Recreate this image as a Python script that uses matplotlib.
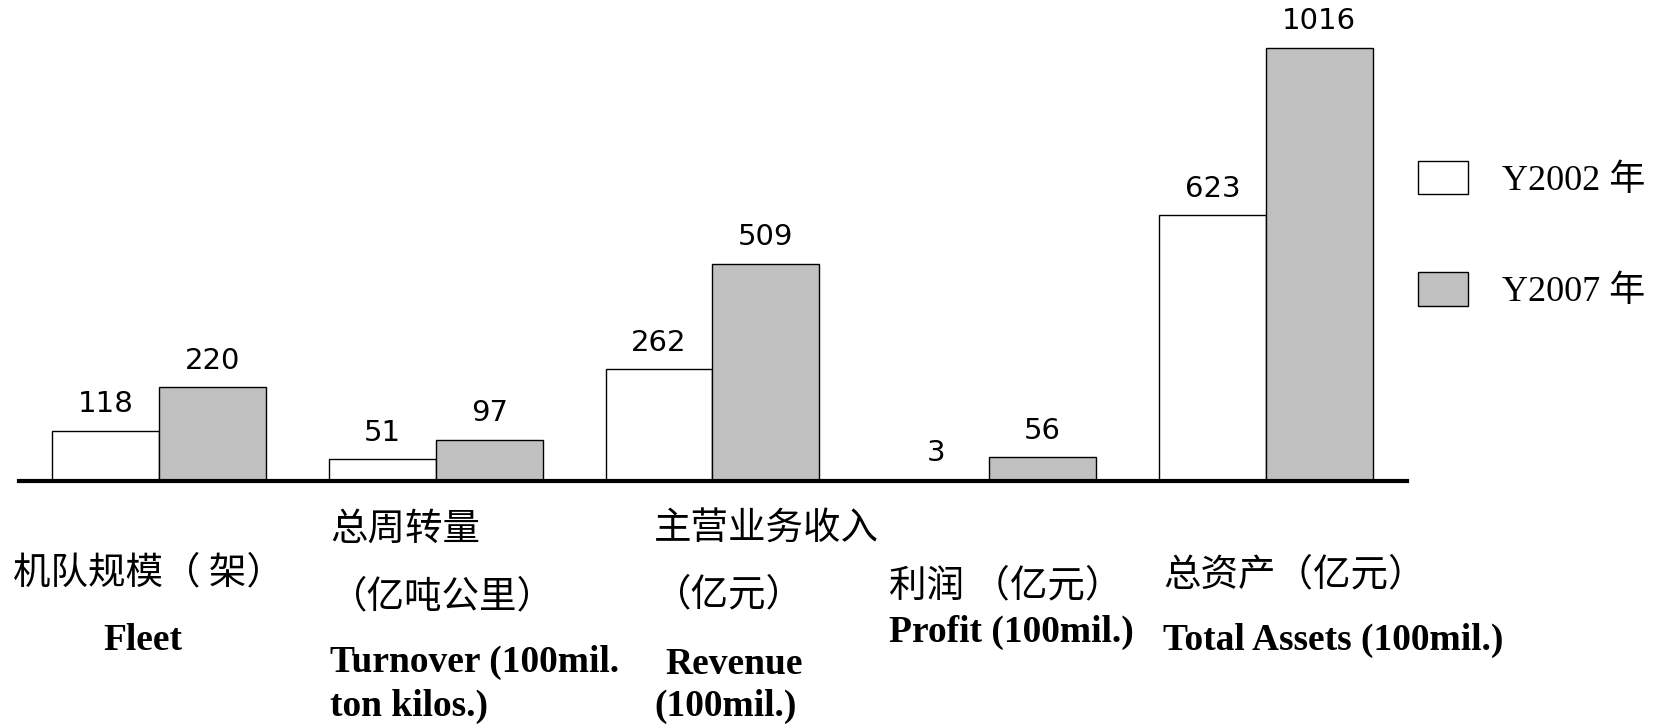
import matplotlib
matplotlib.use("Agg")
import numpy as np
from matplotlib import pyplot as plt
from matplotlib.font_manager import FontProperties

# values
categories = ["Fleet", "Turnover", "Revenue", "Profit", "Total Assets"]
y2002 = [118, 51, 262, 3, 623]
y2007 = [220, 97, 509, 56, 1016]
series_names = ["Y2002 年", "Y2007 年"]

# category captions: (text, kind, x px, y px, align)
captions = [
    ("机队规模（ 架）", "cn", 13, 573, "left"),
    ("Fleet", "en", 143, 640, "center"),
    ("总周转量", "cn", 330, 529, "left"),
    ("（亿吨公里）", "cn", 330, 597, "left"),
    ("Turnover (100mil.", "en", 330, 662, "left"),
    ("ton kilos.)", "en", 330, 706, "left"),
    ("主营业务收入", "cn", 654, 529, "left"),
    ("（亿元）", "cn", 654, 595, "left"),
    ("Revenue", "en", 665, 664, "left"),
    ("(100mil.)", "en", 654, 706, "left"),
    ("利润 （亿元）", "cn", 889, 586, "left"),
    ("Profit (100mil.)", "en", 889, 632, "left"),
    ("总资产（亿元）", "cn", 1163, 575, "left"),
    ("Total Assets (100mil.)", "en", 1163, 640, "left"),
]

W, H = 1665, 726
plt.rcParams['font.family'] = ['Liberation Serif', 'Noto Sans CJK SC', 'DejaVu Sans']

fig = plt.figure(figsize=(W / 100, H / 100), dpi=100)
ax = fig.add_axes([19 / W, 1 - 481 / H, (1407 - 19) / W, 481 / H])

x = np.arange(len(categories))
w = 0.386
b1 = ax.bar(x - w / 2, y2002, w, color="white", edgecolor="black", linewidth=1.0)
b2 = ax.bar(x + w / 2, y2007, w, color="#c0c0c0", edgecolor="black", linewidth=1.0)

for bars in (b1, b2):
    ax.bar_label(bars, padding=9, fontsize=21, family="DejaVu Sans")

ax.set_xlim(-0.506, 4.51)
ax.set_ylim(0, 1128)
for s in ["top", "left", "right"]:
    ax.spines[s].set_visible(False)
ax.spines["bottom"].set_linewidth(3)
ax.set_xticks([])
ax.set_yticks([])
ax.patch.set_alpha(0)

cn_font = FontProperties(family=['Noto Sans CJK SC', 'DejaVu Sans'], size=27)
en_font = FontProperties(family='Liberation Serif', weight='bold', size=27)
for txt, kind, px, py, ha in captions:
    fig.text(px / W, 1 - py / H, txt, ha=ha, va="center",
             fontproperties=cn_font if kind == "cn" else en_font)

leg_font = FontProperties(family=['Liberation Serif', 'Noto Sans CJK SC'], size=26)
ax.legend([b1, b2], series_names, loc="upper left",
          bbox_to_anchor=(1418 / W, 1 - 161 / H), bbox_transform=fig.transFigure,
          frameon=False, borderpad=0, borderaxespad=0,
          handlelength=1.39, handleheight=1.05, handletextpad=0.95,
          labelspacing=2.05, prop=leg_font)

fig.savefig("out.png", dpi=100)
